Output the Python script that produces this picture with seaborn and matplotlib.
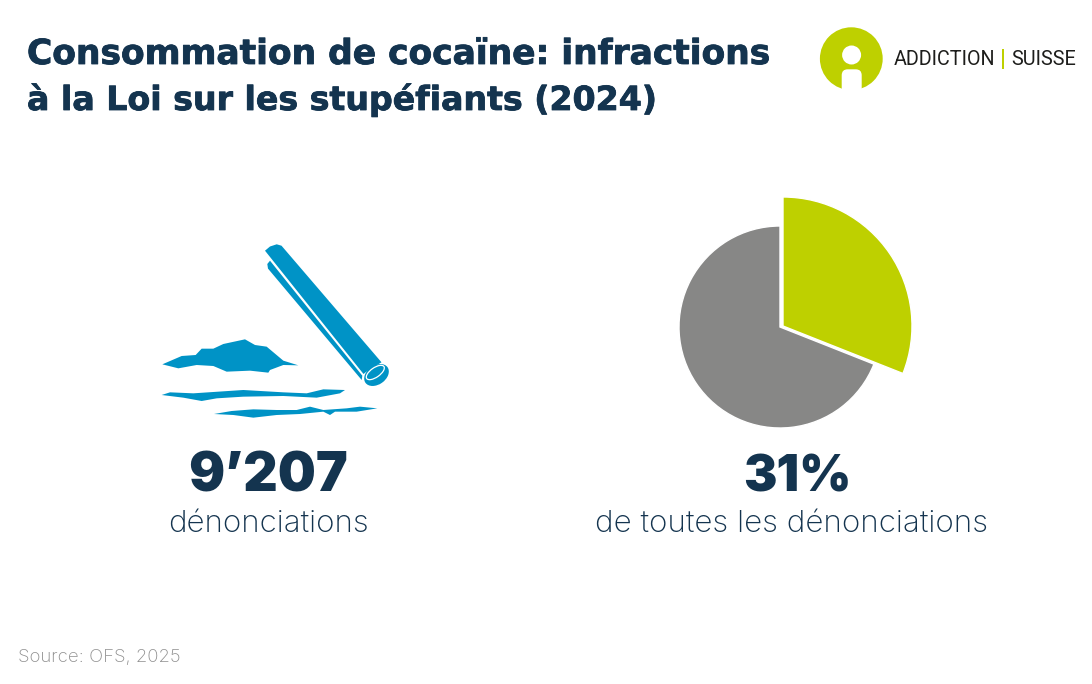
import matplotlib
matplotlib.use("Agg")
import matplotlib.pyplot as plt
import matplotlib.patheffects as pe
import seaborn as sns
from matplotlib.patches import Polygon, Ellipse, Circle, FancyBboxPatch, Rectangle

# ---- data ----
slice_names = ["Cocaïne", "Autres"]
slice_shares = [0.31, 0.69]
title_lines = ["Consommation de cocaïne: infractions", "à la Loi sur les stupéfiants (2024)"]
count_label = "9’207"
count_caption = "dénonciations"
share_label = "31%"
share_caption = "de toutes les dénonciations"
source_label = "Source: OFS, 2025"

NAVY = "#14344F"; GREEN = "#BED000"; GREY = "#878786"; BLUE = "#0093C6"; SOURCE = "#8E8E8E"

sns.set_theme(style="white")
palette = sns.color_palette([GREEN, GREY])
plt.rcParams["font.family"] = ["Inter", "DejaVu Sans"]

W, H = 1092, 684
fig = plt.figure(figsize=(W / 100, H / 100), dpi=100, facecolor="white")
ax = fig.add_axes([0, 0, 1, 1])
ax.set_xlim(0, W); ax.set_ylim(0, H); ax.axis("off")
Y = lambda y: H - y

# pie
ax.pie([slice_shares[0]], colors=[palette[0]], startangle=90, counterclock=False, normalize=False,
       center=(783, Y(326)), radius=129, frame=True)
ax.pie([slice_shares[1]], colors=[palette[1]], startangle=90 - slice_shares[0] * 360, counterclock=False,
       normalize=False, center=(780, Y(327)), radius=101, frame=True)
ax.set_xlim(0, W); ax.set_ylim(0, H); ax.axis("off"); ax.set_aspect("auto")

# icon outlines (decorative, no data)
P = lambda pts: [(x, Y(y)) for x, y in pts]
Z = lambda pts: [(150 + x / 3, Y(230 + y / 3)) for x, y in pts]
straw_top = [(265, 250.7), (270, 246.5), (276.7, 244.3), (281.5, 245.7), (381.5, 362.3), (372, 368), (366, 372), (363.5, 374)]
straw_low = [(270, 260.7), (362.3, 375.7), (361.7, 380), (268, 268.6), (267.3, 264)]
pile = [(37, 403), (95, 378), (137, 375), (155, 356), (190, 356), (220, 342), (285, 328), (315, 345), (350, 350),
        (400, 392), (445, 406), (400, 405), (360, 420), (355, 428), (300, 422), (230, 425), (190, 408), (140, 405), (85, 415)]
line_a = [(35, 495), (60, 487), (130, 490), (280, 480), (400, 487), (470, 490), (520, 478), (585, 480), (570, 490),
          (500, 503), (400, 498), (280, 500), (200, 505), (155, 513), (100, 503)]
line_b = [(192, 552), (245, 543), (310, 538), (380, 540), (440, 540), (480, 530), (520, 540), (590, 535), (630, 530),
          (682, 535), (620, 545), (555, 545), (540, 555), (520, 545), (450, 552), (380, 555), (310, 563), (250, 555)]
for shape in [straw_top, straw_low]:
    ax.add_patch(Polygon(P(shape), closed=True, fc=BLUE, ec="none"))
for shape in [pile, line_a, line_b]:
    ax.add_patch(Polygon(Z(shape), closed=True, fc=BLUE, ec="none"))
ax.add_patch(Ellipse((376.5, Y(375)), 27, 19, angle=35, fc=BLUE, ec="none"))
ax.add_patch(Ellipse((375.3, Y(372.5)), 21, 9.5, angle=35, fc=BLUE, ec="white", lw=0.9))

# logo
ax.add_patch(Circle((851.3, Y(58.7)), 31.4, fc=GREEN, ec="none"))
ax.add_patch(Circle((851.6, Y(55)), 9.5, fc="white", ec="none"))
ax.add_patch(FancyBboxPatch((841.7, Y(95)), 20, 25.7, boxstyle="round,pad=0,rounding_size=6", fc="white", ec="none"))
logo_font = ["Roboto", "DejaVu Sans"]
ax.text(894, Y(59.5), "ADDICTION", fontsize=14.2, color="#1D1D1B", family=logo_font, va="center", ha="left")
ax.add_patch(Rectangle((1001.8, Y(69)), 2.6, 19.7, fc=GREEN, ec="none"))
ax.text(1011.7, Y(59.5), "SUISSE", fontsize=14.3, color="#1D1D1B", family=logo_font, va="center", ha="left")

# texts
title_font = ["DejaVu Sans"]
thick = [pe.withStroke(linewidth=0.6, foreground=NAVY)]
ax.text(27, Y(64), title_lines[0], fontsize=24.8, fontweight="bold", family=title_font, color=NAVY, va="baseline", path_effects=thick)
ax.text(27, Y(110), title_lines[1], fontsize=23.9, fontweight="bold", family=title_font, color=NAVY, va="baseline", path_effects=thick)
ax.text(267.5, Y(492), count_label, fontsize=38.5, fontweight="black", color=NAVY, ha="center", va="baseline")
ax.text(268, Y(532), count_caption, fontsize=22.5, fontweight="light", color=NAVY, ha="center", va="baseline")
ax.text(797.5, Y(492), share_label, fontsize=36, fontweight="black", color=NAVY, ha="center", va="baseline")
ax.text(791.5, Y(532), share_caption, fontsize=22.6, fontweight="light", color=NAVY, ha="center", va="baseline")
ax.text(18, Y(662), source_label, fontsize=13.4, fontweight="light", color=SOURCE, va="baseline")

fig.savefig("out.png", dpi=100)
